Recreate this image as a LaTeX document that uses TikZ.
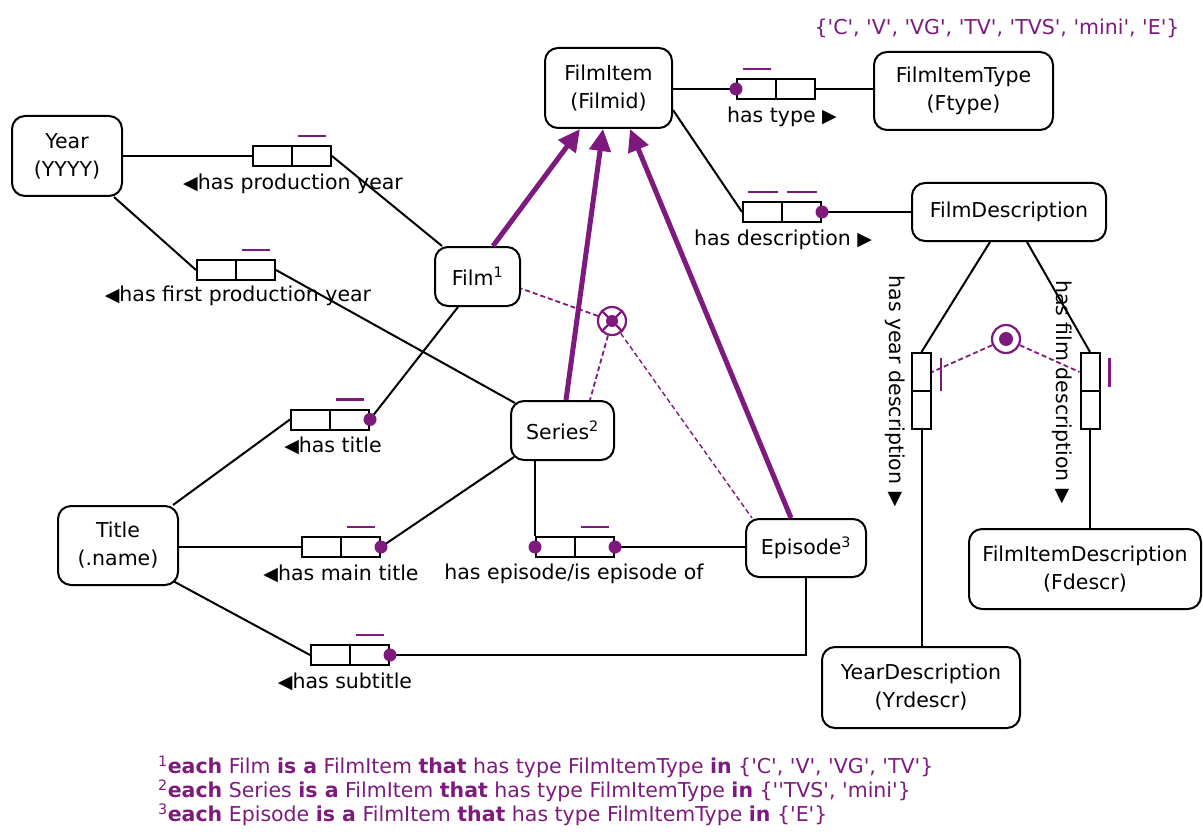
\documentclass[tikz,border=0pt]{standalone}
\usepackage{fontspec}
\newfontfamily\dvs{DejaVu Sans}
\usetikzlibrary{arrows.meta}
\definecolor{ormp}{RGB}{126,26,126}
\newcommand\rtri{\raisebox{0.5pt}{\fontsize{19}{19}\selectfont ▶}}
\newcommand\ltri{\raisebox{0.5pt}{\fontsize{19}{19}\selectfont ◀}}
\newcommand\dtri{{\fontsize{19}{19}\selectfont ▼}}
\begin{document}
\begin{tikzpicture}[x=1pt,y=-1pt,
  font=\dvs\fontsize{20.5}{28}\selectfont,
  ent/.style={draw, line width=2pt, rounded corners=13pt, align=center, inner sep=0pt},
  role/.style={draw, line width=2pt, minimum width=39pt, minimum height=20pt, inner sep=0pt},
  vrole/.style={draw, line width=2pt, minimum width=19pt, minimum height=38pt, inner sep=0pt},
  conn/.style={draw, line width=2pt},
  uq/.style={draw=ormp, line width=2.6pt},
  subarrow/.style={draw=ormp, line width=5pt, -{Triangle[length=22pt,width=21pt]}},
  cons/.style={draw=ormp, line width=1.8pt, dash pattern=on 5pt off 3pt},
  ccirc/.style={draw=ormp, line width=2.2pt, circle, minimum size=28pt, inner sep=0pt},
  lbl/.style={inner sep=0pt},
]
\useasboundingbox (0,0) rectangle (1203,832);

% entity types
\node[ent, minimum width=127pt, minimum height=80pt] (FI) at (608.5,88) {FilmItem\\(Filmid)};
\node[ent, minimum width=179pt, minimum height=78pt] (FIT) at (963.5,91) {FilmItemType\\(Ftype)};
\node[ent, minimum width=110pt, minimum height=80pt] (Y) at (67,156) {Year\\(YYYY)};
\node[ent, minimum width=85pt, minimum height=59pt] (Film) at (477.5,276.5) {Film\textsuperscript{1}};
\node[ent, minimum width=194pt, minimum height=58pt] (FD) at (1009,212) {FilmDescription};
\node[ent, minimum width=103pt, minimum height=59pt] (S) at (562.5,430.5) {Series\textsuperscript{2}};
\node[ent, minimum width=120pt, minimum height=79pt] (T) at (118,545.5) {Title\\(.name)};
\node[ent, minimum width=120pt, minimum height=58pt] (E) at (806,548) {Episode\textsuperscript{3}};
\node[ent, minimum width=232pt, minimum height=80pt] (FIDs) at (1085,569) {FilmItemDescription\\(Fdescr)};
\node[ent, minimum width=198pt, minimum height=81pt] (YD) at (921,687.5) {YearDescription\\(Yrdescr)};

\node[lbl, text=ormp] (VC) at (997,28) {\{'C', 'V', 'VG', 'TV', 'TVS', 'mini', 'E'\}};

% role boxes
\node[role] (HT1) at (756.5,89) {};   \node[role] (HT2) at (795.5,89) {};
\node[role] (HD1) at (762.5,212) {};  \node[role] (HD2) at (801.5,212) {};
\node[role] (HPY1) at (272.5,156) {}; \node[role] (HPY2) at (311.5,156) {};
\node[role] (HFPY1) at (216.5,270) {};\node[role] (HFPY2) at (255.5,270) {};
\node[role] (HTi1) at (310.5,419.5) {};\node[role] (HTi2) at (349.5,419.5) {};
\node[role] (HMT1) at (321.5,547) {}; \node[role] (HMT2) at (360.5,547) {};
\node[role] (HE1) at (555.5,547) {};  \node[role] (HE2) at (594.5,547) {};
\node[role] (HS1) at (330.5,655) {};  \node[role] (HS2) at (369.5,655) {};
\node[vrole] (HYD1) at (921.5,372) {}; \node[vrole] (HYD2) at (921.5,410) {};
\node[vrole] (HFD1) at (1090,372) {};  \node[vrole] (HFD2) at (1090,410) {};

% connectors
\draw[conn] (HT1.west -| FI.east) -- (HT1.west);
\draw[conn] (HT2.east) -- (HT2.east -| FIT.west);
\draw[conn] ([yshift=-22pt]FI.east) -- (HD1.west);
\draw[conn] (HD2.east) -- (FD.west);
\draw[conn] (Y.east) -- (HPY1.west);
\draw[conn] (HPY2.east) -- ([xshift=8pt]Film.north west);
\draw[conn] ([xshift=-9pt]Y.south east) -- (HFPY1.west);
\draw[conn] (HFPY2.east) -- ([xshift=5pt,yshift=-3pt]S.north west);
\draw[conn] (HTi1.west) -- ([xshift=-6pt]T.north east);
\draw[conn] (HTi2.east) -- ([xshift=-19.5pt]Film.south);
\draw[conn] (HMT1.west -| T.east) -- (HMT1.west);
\draw[conn] (HMT2.east) -- ([xshift=4pt,yshift=4pt]S.south west);
\draw[conn] (HE1.north west) -- (HE1.north west |- S.south);
\draw[conn] (HE2.east) -- (HE2.east -| E.west);
\draw[conn] ([xshift=-6pt,yshift=5pt]T.south east) -- (HS1.west);
\draw[conn] (HS2.east) -| (E.south);
\draw[conn] ([xshift=-19pt]FD.south) -- (HYD1.north);
\draw[conn] (HYD2.south) -- (HYD2.south |- YD.north);
\draw[conn] ([xshift=18pt]FD.south) -- (HFD1.north);
\draw[conn] (HFD2.south) -- (HFD2.south |- FIDs.north);

% uniqueness constraints
\draw[uq] ([xshift=-14pt,yshift=9pt]HT1.north) -- ([xshift=14pt,yshift=9pt]HT1.north);
\draw[uq] ([xshift=-15pt,yshift=9pt]HD1.north) -- ([xshift=15pt,yshift=9pt]HD1.north);
\draw[uq] ([xshift=-15pt,yshift=9pt]HD2.north) -- ([xshift=15pt,yshift=9pt]HD2.north);
\draw[uq] ([xshift=-14pt,yshift=9pt]HPY2.north) -- ([xshift=14pt,yshift=9pt]HPY2.north);
\draw[uq] ([xshift=-14pt,yshift=9pt]HFPY2.north) -- ([xshift=14pt,yshift=9pt]HFPY2.north);
\draw[uq] ([xshift=-14pt,yshift=9pt]HTi2.north) -- ([xshift=14pt,yshift=9pt]HTi2.north);
\draw[uq] ([xshift=-14pt,yshift=9pt]HMT2.north) -- ([xshift=14pt,yshift=9pt]HMT2.north);
\draw[uq] ([xshift=-14pt,yshift=9pt]HE2.north) -- ([xshift=14pt,yshift=9pt]HE2.north);
\draw[uq] ([xshift=-14pt,yshift=9pt]HS2.north) -- ([xshift=14pt,yshift=9pt]HS2.north);
\draw[uq] ([xshift=9pt,yshift=14pt]HYD1.east) -- ([xshift=9pt,yshift=-19pt]HYD1.east);
\draw[uq] ([xshift=9pt,yshift=14pt]HFD1.east) -- ([xshift=9pt,yshift=-15pt]HFD1.east);

% mandatory dots
\fill[ormp] (HT1.west) circle (6.5pt);
\fill[ormp] (HD2.east) circle (6.5pt);
\fill[ormp] (HTi2.east) circle (6.5pt);
\fill[ormp] (HMT2.east) circle (6.5pt);
\fill[ormp] (HE1.west) circle (6.5pt);
\fill[ormp] (HE2.east) circle (6.5pt);
\fill[ormp] (HS2.east) circle (6.5pt);

% subtype arrows
\draw[subarrow] ([xshift=15.5pt]Film.north) -- ([xshift=-28.5pt]FI.south);
\draw[subarrow] ([xshift=3.5pt]S.north) -- ([xshift=-5.5pt]FI.south);
\draw[subarrow] ([xshift=-15pt]E.north) -- ([xshift=21.5pt]FI.south);

% exclusive-or constraint
\node[ccirc] (XC) at (612,321) {};
\draw[ormp, line width=2.2pt] (XC.north east) -- (XC.south west) (XC.north west) -- (XC.south east);
\fill[ormp] (XC.center) circle (6pt);
\draw[cons] (XC) -- ([yshift=-12pt]Film.east);
\draw[cons] (XC) -- ([xshift=27.5pt]S.north);
\draw[cons, line width=1.4pt] (XC) -- ([xshift=7pt]E.north west);

% inclusive-or constraint
\node[ccirc] (IC) at (1006,339) {};
\fill[ormp] (IC.center) circle (7pt);
\draw[cons] (IC) -- (HYD1.east);
\draw[cons] (IC) -- (HFD1.west);

% labels
\node[lbl] (lHT) at (782,117) {has type \rtri};
\node[lbl] (lHD) at (783,240) {has description \rtri};
\node[lbl] (lHPY) at (293,184) {\ltri{}has production year};
\node[lbl] (lHFPY) at (238,296) {\ltri{}has first production year};
\node[lbl] (lHTi) at (333,446) {\ltri{}has title};
\node[lbl] (lHMT) at (341,574) {\ltri{}has main title};
\node[lbl] (lHE) at (574,574) {has episode/is episode of};
\node[lbl] (lHS) at (345,682) {\ltri{}has subtitle};
\node[lbl, rotate=-90] (lHYD) at (895,380) {has year description};
\node[lbl] (aHYD) at (895,500) {\dtri};
\node[lbl, rotate=-90] (lHFD) at (1062,381) {has film description};
\node[lbl] (aHFD) at (1062,497) {\dtri};

% footnotes
\begin{scope}[font=\dvs\fontsize{20.5}{24}\selectfont]
\node[lbl, anchor=west, text=ormp] (F1) at (158,767) {\textsuperscript{1}\textbf{each} Film \textbf{is a} FilmItem \textbf{that} has type FilmItemType \textbf{in} \{'C', 'V', 'VG', 'TV'\}};
\node[lbl, anchor=west, text=ormp] (F2) at (158,791) {\textsuperscript{2}\textbf{each} Series \textbf{is a} FilmItem \textbf{that} has type FilmItemType \textbf{in} \{''TVS', 'mini'\}};
\node[lbl, anchor=west, text=ormp] (F3) at (158,815) {\textsuperscript{3}\textbf{each} Episode \textbf{is a} FilmItem \textbf{that} has type FilmItemType \textbf{in} \{'E'\}};
\end{scope}
\end{tikzpicture}
\end{document}
